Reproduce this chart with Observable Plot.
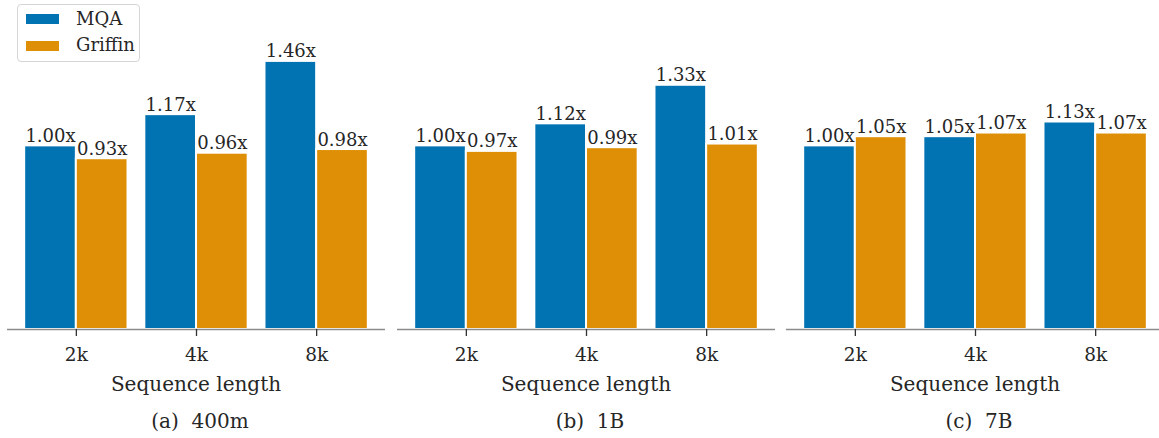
<!DOCTYPE html>
<html>
<head>
<meta charset="utf-8">
<script src="https://cdn.jsdelivr.net/npm/d3@7"></script>
<script src="https://cdn.jsdelivr.net/npm/@observablehq/plot@0.6"></script>
<style>
  html, body { margin: 0; padding: 0; background: #fff; }
  #wrap { position: relative; width: 1159px; height: 438px; overflow: hidden; font-family: "DejaVu Serif", serif; color: #262626; }
  .panel { position: absolute; top: 0; }
  .lbl { position: absolute; text-align: center; white-space: pre; font-size: 20px; height: 30px; line-height: 30px; }
  #legend { position: absolute; left: 17px; top: 4px; width: 121px; height: 56px; border: 1.5px solid #d5d5d5; border-radius: 4px; background: rgba(255,255,255,0.85); font-size: 18px; }
  .sw { position: absolute; left: 8px; width: 33px; height: 10px; }
  .lt { position: absolute; left: 58px; height: 24px; line-height: 24px; }
</style>
</head>
<body>
<div id="wrap"></div>
<script>
// ---- data ----
const lengths = ["2k", "4k", "8k"];
const models = ["MQA", "Griffin"];
const panelNames = ["(a)  400m", "(b)  1B", "(c)  7B"];
const mqa400m = [1.00, 1.17, 1.46];
const griffin400m = [0.93, 0.96, 0.98];
const mqa1B = [1.00, 1.12, 1.33];
const griffin1B = [0.97, 0.99, 1.01];
const mqa7B = [1.00, 1.05, 1.13];
const griffin7B = [1.05, 1.07, 1.07];

const colors = {MQA: "#0173b2", Griffin: "#de8f05"};
const seriesByPanel = [
  [mqa400m, griffin400m],
  [mqa1B, griffin1B],
  [mqa7B, griffin7B]
];

const barW = 0.43;
const wrap = document.getElementById("wrap");
const panelLeft = [0, 389, 778];
const marginLeft = [7, 8, 8];
const svgW = 400, svgH = 400;
const textColor = "#262626";

seriesByPanel.forEach((series, p) => {
  const rows = [];
  series.forEach((vals, m) => {
    vals.forEach((v, i) => rows.push({i, model: models[m], value: v, m}));
  });
  const x1 = d => d.m === 0 ? d.i - barW : d.i;
  const x2 = d => d.m === 0 ? d.i : d.i + barW;
  const xc = d => d.m === 0 ? d.i - barW / 2 : d.i + barW / 2;
  const plot = Plot.plot({
    width: svgW,
    height: svgH,
    marginLeft: marginLeft[p],
    marginRight: svgW - 378 - marginLeft[p],
    marginTop: 47.5,
    marginBottom: 71,
    style: {fontFamily: "DejaVu Serif", color: textColor, background: "transparent", overflow: "visible"},
    x: {type: "linear", domain: [-0.573, 2.573]},
    y: {domain: [0, 1.533], axis: null},
    marks: [
      Plot.rectY(rows, {x1, x2, y1: 0, y2: "value", fill: d => colors[d.model], stroke: "white", strokeWidth: 2}),
      Plot.ruleY([0], {stroke: "#8c8c8c", strokeWidth: 1.5}),
      Plot.text(rows, {x: xc, y: "value", text: d => d.value.toFixed(2) + "x", dy: -4, lineAnchor: "bottom", fontSize: 18, fill: textColor}),
      Plot.axisX({ticks: [0, 1, 2], tickFormat: i => lengths[i], tickSize: 7, tickPadding: 11, fontSize: 18.5, stroke: "#333", strokeWidth: 1.3, fill: textColor, label: null})
    ]
  });
  plot.classList.add("panel");
  plot.style.left = panelLeft[p] + "px";
  wrap.appendChild(plot);

  const center = panelLeft[p] + marginLeft[p] + 189;
  const xl = document.createElement("div");
  xl.className = "lbl";
  xl.style.left = (center - 150) + "px";
  xl.style.width = "300px";
  xl.style.top = (384 - 15) + "px";
  xl.textContent = "Sequence length";
  wrap.appendChild(xl);

  const cap = document.createElement("div");
  cap.className = "lbl";
  cap.style.left = (center + 4 - 150) + "px";
  cap.style.width = "300px";
  cap.style.top = (421 - 15) + "px";
  cap.textContent = panelNames[p];
  wrap.appendChild(cap);
});

// legend
const leg = document.createElement("div");
leg.id = "legend";
models.forEach((m, k) => {
  const sw = document.createElement("div");
  sw.className = "sw";
  sw.style.top = (9 + k * 26.5) + "px";
  sw.style.background = colors[m];
  leg.appendChild(sw);
  const t = document.createElement("div");
  t.className = "lt";
  t.style.top = (2 + k * 26) + "px";
  t.textContent = m;
  leg.appendChild(t);
});
wrap.appendChild(leg);
</script>
</body>
</html>
